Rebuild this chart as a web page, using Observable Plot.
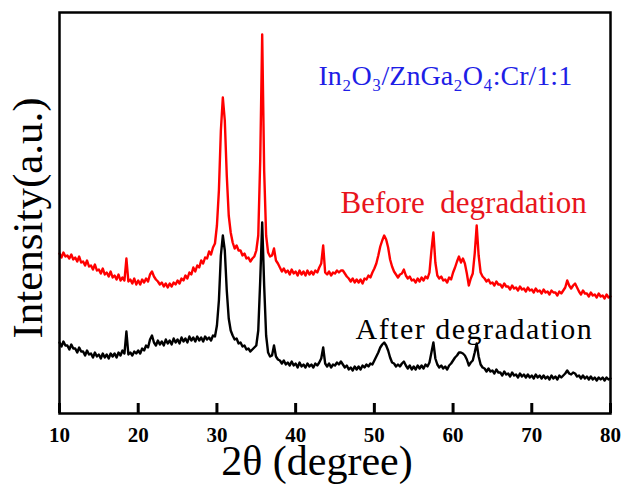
<!DOCTYPE html>
<html><head><meta charset="utf-8">
<script src="https://cdn.jsdelivr.net/npm/d3@7"></script>
<script src="https://cdn.jsdelivr.net/npm/@observablehq/plot@0.6"></script>
<style>body{margin:0;background:#fff} svg{display:block}</style>
</head><body><div id="chart"></div>
<script>
// 2θ sampling: start at 10°, every 0.25°
const thetaStart = 10;
const thetaStep = 0.25;
const xTicks = [10, 20, 30, 40, 50, 60, 70, 80];

// Intensity (a.u.), 4 values per degree
const beforeIntensity = [
  160,156,161,157, 158,155,159,154, 156,152,157,151, 152,148,153,147, 148,144,149,143,
  144,140,145,139, 141,137,142,136, 138,134,139,133, 136,133,155,132, 134,130,135,129,
  133,129,134,131, 135,132,139,142, 137,134,132,129, 131,127,130,126, 130,127,131,129,
  133,130,135,133, 138,135,141,139, 146,142,148,146, 153,150,156,155, 162,159,166,170,
  188,223,283,316, 293,238,198,181, 171,165,168,163, 163,158,160,155, 156,152,155,157,
  163,178,253,379, 243,178,161,157, 158,165,153,150, 146,142,145,141, 143,139,144,140,
  142,138,143,139, 142,138,143,139, 142,139,143,141, 146,150,168,141, 139,142,138,141,
  140,143,141,143, 143,140,137,135, 132,135,131,134, 131,134,130,135, 134,138,136,141,
  145,150,158,167, 173,178,174,166, 154,147,142,139, 136,139,140,144, 138,135,137,133,
  134,131,135,132, 136,133,137,135, 141,163,181,151, 138,135,137,133, 134,131,136,134,
  141,146,152,157, 151,155,150,140, 128,135,140,160, 188,158,141,137, 135,132,134,130,
  131,128,132,129, 129,126,130,127, 127,124,128,125, 126,123,127,124, 125,122,126,123,
  124,121,125,122, 123,120,124,121, 122,119,123,121, 121,118,122,120, 123,126,133,128,
  125,128,130,126, 122,119,123,120, 120,117,121,118, 119,116,120,117, 118,115,119,116,
  117
];
const afterIntensity = [
  71,67,72,68, 68,64,69,65, 65,61,66,62, 62,58,63,59, 60,56,61,57,
  59,55,60,56, 59,55,60,57, 60,56,61,58, 63,60,82,59, 61,58,62,60,
  63,60,65,63, 68,66,74,78, 71,68,73,69, 72,68,74,70, 73,69,75,71,
  74,70,76,72, 75,71,77,73, 76,72,77,73, 76,72,77,74, 76,73,78,77,
  88,113,158,178, 163,123,95,83, 78,74,75,70, 71,67,68,64, 65,62,64,66,
  68,83,133,191, 128,78,61,57, 58,68,57,54, 53,50,53,49, 51,48,52,48,
  50,46,51,47, 49,46,50,47, 49,46,50,48, 51,55,66,50, 47,50,46,49,
  48,51,49,52, 49,46,48,44, 46,43,47,44, 47,44,48,46, 49,47,50,49,
  53,57,61,66, 69,71,68,63, 56,51,50,47, 49,47,50,52, 48,45,48,44,
  47,44,48,45, 48,45,49,47, 51,61,71,55, 49,46,48,45, 47,44,48,50,
  53,56,58,61, 61,60,58,54, 48,51,53,61, 70,57,49,46, 45,42,45,42,
  43,40,44,41, 41,38,42,39, 40,37,41,38, 39,36,40,37, 39,36,39,36,
  38,35,39,36, 38,35,38,35, 37,34,38,35, 37,34,38,36, 38,40,43,40,
  39,41,40,37, 38,35,38,35, 37,34,37,34, 36,33,36,34, 36,33,36,34,
  35
];

const sampleLabel = "In\u2082O\u2083/ZnGa\u2082O\u2084:Cr/1:1";
const beforeLabel = "Before\u00a0\u00a0degradation";
const afterLabel = "After degradation";
const xLabel = "2θ (degree)";
const yLabel = "Intensity(a.u.)";

const toRows = arr => arr.map((v, i) => ({theta: thetaStart + i * thetaStep, intensity: v}));
const beforeData = toRows(beforeIntensity);
const afterData = toRows(afterIntensity);

const serif = "'Liberation Serif', 'Times New Roman', serif";
const tickLength = 10; // inward tick length in intensity units (1 unit = 1 px here)

const chart = Plot.plot({
  width: 624, height: 488,
  marginLeft: 59, marginRight: 14, marginTop: 12, marginBottom: 75,
  style: {fontFamily: serif, background: "white", color: "black"},
  x: {domain: [10, 80], ticks: xTicks},
  y: {domain: [0, 401], axis: null},
  marks: [
    Plot.text([sampleLabel], {x: 42.9, y: 329, text: d => d, textAnchor: "start", lineAnchor: "bottom", fill: "#1e1ee6", fontSize: 28}),
    Plot.text([beforeLabel], {x: 45.7, y: 201, text: d => d, textAnchor: "start", lineAnchor: "bottom", fill: "#e8141c", fontSize: 31}),
    Plot.text([afterLabel], {x: 47.6, y: 75, text: d => d, textAnchor: "start", lineAnchor: "bottom", fill: "#000", fontSize: 30}),
    Plot.line(beforeData, {x: "theta", y: "intensity", stroke: "#ff0000", strokeWidth: 2.4, strokeLinejoin: "round"}),
    Plot.line(afterData, {x: "theta", y: "intensity", stroke: "#000000", strokeWidth: 2.4, strokeLinejoin: "round"}),
    Plot.ruleX(xTicks, {x: d => d, y1: 0, y2: tickLength, stroke: "#000", strokeWidth: 3}),
    Plot.axisX({ticks: xTicks, tickSize: 0, tickPadding: 14, fontSize: 21, fontWeight: "bold", label: null}),
    Plot.text([xLabel], {frameAnchor: "bottom", text: d => d, textAnchor: "middle", dx: -18, dy: 61, fontSize: 42}),
    Plot.text([yLabel], {frameAnchor: "left", text: d => d, textAnchor: "middle", rotate: -90, dx: -31, dy: 5, fontSize: 43}),
    Plot.frame({stroke: "#000", strokeWidth: 2.5})
  ]
});
d3.select(chart).selectAll("text").filter(function() { return this.textContent === afterLabel; })
  .attr("letter-spacing", "1.5px");
document.getElementById("chart").append(chart);
</script>
</body></html>
